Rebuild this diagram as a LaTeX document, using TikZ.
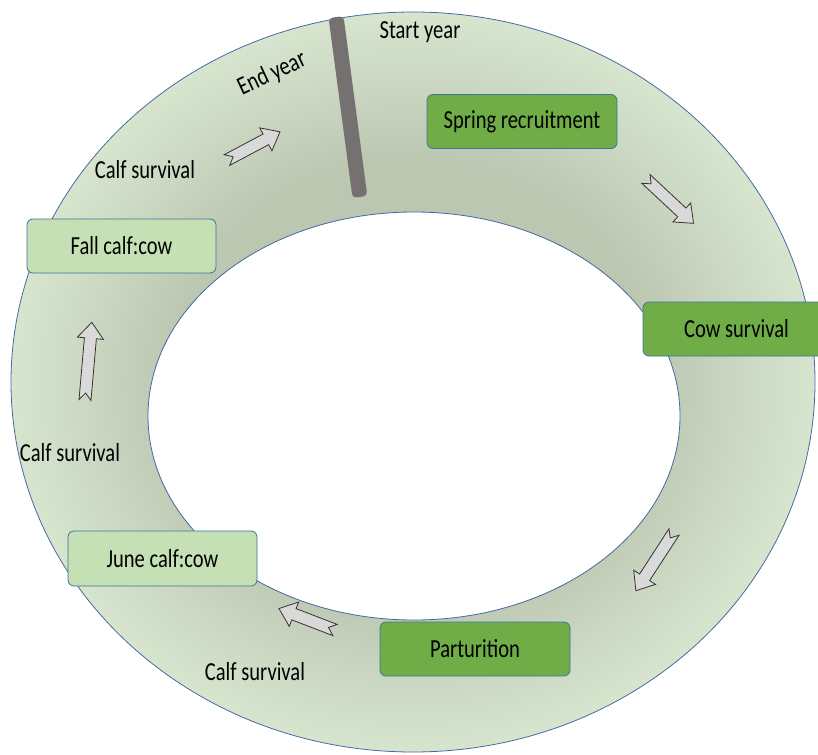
\documentclass[tikz,border=0pt]{standalone}
\usepackage{fontspec}
\setmainfont{Carlito}[FakeStretch=0.79]
\definecolor{ringlight}{RGB}{215,229,207}
\definecolor{ringdark}{RGB}{188,199,178}
\definecolor{ringedge}{RGB}{70,105,165}
\definecolor{darkbox}{RGB}{112,173,71}
\definecolor{lightbox}{RGB}{197,224,180}
\definecolor{boxedge}{RGB}{65,113,156}
\definecolor{barcolor}{RGB}{118,113,113}
\definecolor{arrowfill}{RGB}{217,217,217}
\pgfdeclareradialshading{ringshade}{\pgfpoint{0bp}{0bp}}{%
  color(0bp)=(ringdark); color(15bp)=(ringdark); color(25bp)=(ringlight); color(50bp)=(ringlight)}
\tikzset{
  label text/.style={font=\fontsize{26}{28}\selectfont, text=black, inner sep=0pt},
  stagebox/.style={label text, draw=boxedge, line width=0.8pt, rounded corners=6pt,
                   minimum width=190pt, minimum height=54pt},
  darkstage/.style={stagebox, fill=darkbox},
  lightstage/.style={stagebox, fill=lightbox},
  arrowbody/.style={fill=arrowfill, draw=black!80, line width=0.8pt, line join=miter},
  pics/blockarrow/.style={code={
    \path[arrowbody] (0,6) -- (#1-16,6) -- (#1-16,13) -- (#1,0) -- (#1-16,-13)
      -- (#1-16,-6) -- (0,-6) -- (7,0) -- cycle;
  }},
}
\begin{document}
\begin{tikzpicture}[x=1pt, y=-1pt]
\useasboundingbox (0,0) rectangle (818,754);
\begin{scope}
\clip (0,0) rectangle (818,754);
% shaded annual ring
\shade[even odd rule, shading=ringshade]
  (413,382) ellipse [x radius=402, y radius=370]
  (414,416) ellipse [x radius=266, y radius=204];
\draw[ringedge, line width=0.8pt] (413,382) ellipse [x radius=402, y radius=370];
\draw[ringedge, line width=0.8pt] (414,416) ellipse [x radius=266, y radius=204];

% year boundary marker: a slanted bar with softened corners
\fill[barcolor, rounded corners=4pt]
  (328.6,18.1) -- (343.5,16.1) -- (367.3,195.9) -- (352.5,197.9) -- cycle;

% stages
\node[darkstage] (spring) at (522,121.5) {Spring recruitment};
\node[darkstage, minimum width=187pt] (cow) at (736.5,329) {Cow survival};
\node[darkstage] (part) at (475,649) {Parturition};
\node[lightstage, minimum width=189pt, minimum height=55pt] (june) at (162.5,558.5) {June calf:cow};
\node[lightstage, minimum width=189pt] (fall) at (121.5,246) {Fall calf:cow};

% direction arrows
\pic[rotate=28] (a1) at (227,160) {blockarrow=60};
\pic[rotate=-43] (a2) at (646,179) {blockarrow=65};
\pic[rotate=-123] (a3) at (674,532) {blockarrow=70};
\pic[rotate=159] (a4) at (335,630) {blockarrow=60};
\pic[rotate=85] (a5) at (85,400) {blockarrow=78};

% labels
\node[label text] (start) at (420,32) {Start year};
\node[label text, rotate=25] (end) at (272,74) {End year};
\node[label text] (cs1) at (145,170) {Calf survival};
\node[label text] (cs2) at (70,453) {Calf survival};
\node[label text] (cs3) at (255,672) {Calf survival};
\end{scope}
\end{tikzpicture}
\end{document}
